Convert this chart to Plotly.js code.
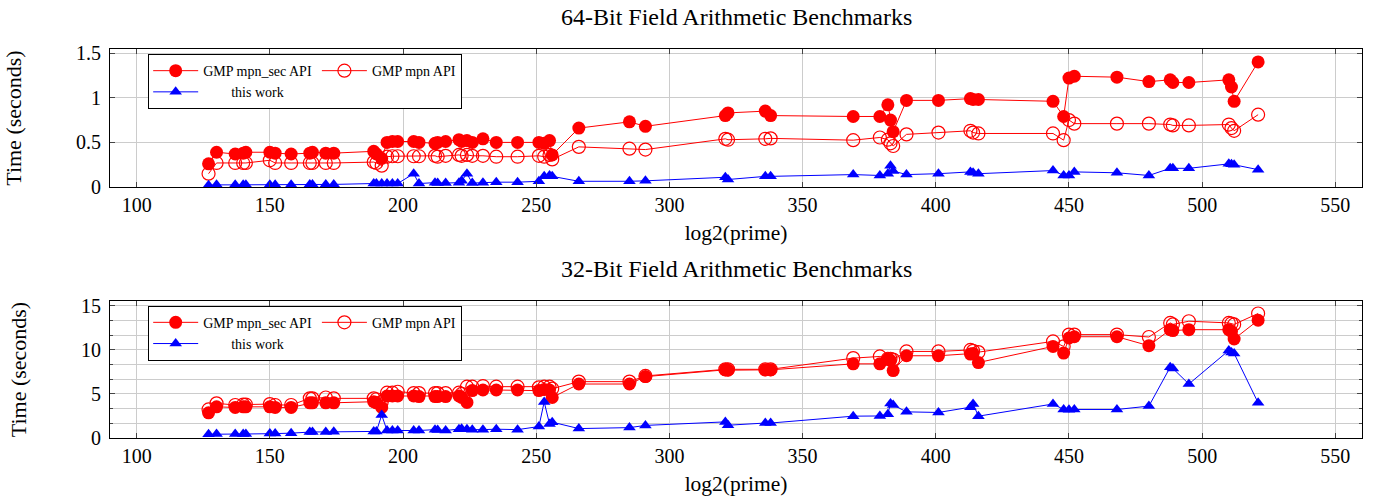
<!DOCTYPE html>
<html>
<head>
<meta charset="utf-8">
<script src="https://cdn.plot.ly/plotly-3.0.1.min.js"></script>
<style>html,body{margin:0;padding:0;background:#fff;}#chart{width:1374px;height:498px;}</style>
</head>
<body>
<div id="chart"></div>
<script>
// log2(prime) bit lengths
const bits = [127,130,137,140,141,150,152,158,165,166,171,174,189,190,192,194,196,198,204,206,212,213,216,221,222,224,226,230,235,243,251,253,255,256,266,285,291,321,322,336,338,369,379,382,383,384,389,401,413,414,416,444,448,450,452,468,480,488,489,495,510,511,512,521];

// 64-bit field timings (seconds)
const sec64 = [0.26,0.39,0.37,0.38,0.39,0.39,0.38,0.37,0.38,0.39,0.38,0.38,0.40,0.37,0.32,0.50,0.51,0.51,0.51,0.50,0.49,0.50,0.51,0.53,0.51,0.52,0.50,0.54,0.50,0.50,0.50,0.49,0.52,0.36,0.66,0.73,0.68,0.80,0.83,0.85,0.80,0.79,0.79,0.92,0.75,0.62,0.97,0.97,0.99,0.98,0.98,0.96,0.79,1.22,1.24,1.23,1.18,1.20,1.17,1.17,1.20,1.12,0.96,1.40];
const mpn64 = [0.15,0.27,0.27,0.27,0.27,0.30,0.27,0.27,0.27,0.27,0.27,0.27,0.28,0.27,0.24,0.34,0.345,0.345,0.345,0.345,0.35,0.34,0.35,0.36,0.35,0.36,0.35,0.35,0.34,0.34,0.35,0.34,0.36,0.31,0.45,0.43,0.42,0.54,0.53,0.54,0.545,0.525,0.555,0.53,0.49,0.46,0.59,0.61,0.63,0.61,0.60,0.60,0.525,0.75,0.71,0.71,0.71,0.70,0.69,0.69,0.70,0.66,0.63,0.81];
const work64 = [0.02,0.025,0.025,0.025,0.025,0.025,0.025,0.025,0.03,0.03,0.03,0.03,0.04,0.04,0.04,0.04,0.04,0.04,0.15,0.04,0.05,0.045,0.045,0.05,0.07,0.15,0.045,0.05,0.055,0.055,0.065,0.12,0.13,0.12,0.065,0.065,0.07,0.11,0.085,0.12,0.12,0.14,0.13,0.15,0.24,0.18,0.14,0.15,0.17,0.16,0.15,0.185,0.13,0.13,0.17,0.16,0.13,0.21,0.21,0.21,0.26,0.255,0.25,0.195];

// 32-bit field timings (seconds)
const sec32 = [2.86,3.54,3.47,3.54,3.54,3.54,3.47,3.47,4.0,4.0,4.0,4.0,4.12,4.0,3.47,4.77,4.77,4.77,4.77,4.7,4.7,4.7,4.7,4.77,4.6,4.04,5.38,5.45,5.45,5.45,5.38,5.5,5.45,4.6,6.13,6.13,6.97,7.74,7.7,7.74,7.74,8.42,8.42,8.95,8.8,7.66,9.34,9.34,9.53,9.6,8.57,10.4,9.64,11.36,11.5,11.5,10.48,12.3,12.2,12.3,12.3,12.1,11.24,13.37];
const mpn32 = [3.24,3.93,3.75,3.8,3.8,3.85,3.75,3.75,4.5,4.5,4.6,4.5,4.5,4.4,4.1,5.15,5.15,5.25,5.1,5.1,5.1,5.1,5.1,5.15,5.0,5.83,5.83,5.9,5.83,5.83,5.75,5.83,5.83,5.6,6.4,6.4,7.05,7.8,7.8,7.8,7.8,9.07,9.26,9.0,9.0,8.9,9.83,9.83,10.0,9.9,9.75,10.97,10.4,11.74,11.74,11.74,11.47,13.07,12.9,13.26,13.07,13.0,12.9,14.14];
const work32 = [0.42,0.45,0.45,0.45,0.45,0.5,0.5,0.55,0.69,0.69,0.69,0.7,0.75,0.75,2.6,0.85,0.85,0.85,0.85,0.85,0.95,0.9,0.85,1.0,1.05,1.0,0.95,0.95,1.0,0.95,1.3,4.1,1.6,1.8,1.07,1.18,1.43,1.83,1.45,1.7,1.7,2.48,2.5,2.7,3.93,3.75,2.97,2.9,3.5,3.86,2.48,3.86,3.24,3.2,3.24,3.24,3.62,8.04,7.9,6.13,9.94,9.7,9.6,4.0];

const names = ['GMP mpn_sec API', 'GMP mpn API', '\u00A0\u00A0\u00A0\u00A0\u00A0\u00A0\u00A0\u00A0this work'];
const titles = ['64-Bit Field Arithmetic Benchmarks', '32-Bit Field Arithmetic Benchmarks'];

const RED = '#ff0000', BLUE = '#0000ff';
const FONT = 'Liberation Serif, Times New Roman, serif';

function mk(x, y, name, xa, ya, leg, grp, style) {
  const t = {x: x, y: y, name: name, xaxis: xa, yaxis: ya, legend: leg, legendgroup: grp,
    type: 'scatter', mode: 'lines+markers', cliponaxis: false};
  if (style === 'sec') { t.line = {color: RED, width: 1}; t.marker = {symbol: 'circle', size: 13, color: RED}; }
  if (style === 'mpn') { t.line = {color: RED, width: 1}; t.marker = {symbol: 'circle-open', size: 13, color: RED, line: {width: 1.2, color: RED}}; }
  if (style === 'work') { t.line = {color: BLUE, width: 1}; t.marker = {symbol: 'triangle-up', size: 11, color: BLUE}; }
  return t;
}

const data = [
  mk(bits, sec64, names[0], 'x', 'y', 'legend', 'a1', 'sec'),
  mk(bits, mpn64, names[1], 'x', 'y', 'legend', 'b1', 'mpn'),
  mk(bits, work64, names[2], 'x', 'y', 'legend', 'a1', 'work'),
  mk(bits, sec32, names[0], 'x2', 'y2', 'legend2', 'a2', 'sec'),
  mk(bits, mpn32, names[1], 'x2', 'y2', 'legend2', 'b2', 'mpn'),
  mk(bits, work32, names[2], 'x2', 'y2', 'legend2', 'a2', 'work')
];

const grid = '#cccccc';
function xax(anchor) {
  return {anchor: anchor, range: [90, 560], dtick: 50, tick0: 0, showgrid: true, gridcolor: grid, gridwidth: 1,
    zeroline: false, showline: true, linecolor: '#000', linewidth: 1, mirror: 'ticks', ticks: 'inside', ticklen: 5,
    tickcolor: '#444', tickfont: {family: FONT, size: 20, color: '#000'},
    title: {text: 'log2(prime)', font: {family: FONT, size: 21.5, color: '#000'}, standoff: 9}};
}
function yax(anchor, domain, range, dtick, minor) {
  const a = {anchor: anchor, domain: domain, range: range, dtick: dtick, tick0: 0, showgrid: true, gridcolor: grid, gridwidth: 1,
    zeroline: false, showline: true, linecolor: '#000', linewidth: 1, mirror: 'ticks', ticks: 'inside', ticklen: 5,
    tickcolor: '#444', tickfont: {family: FONT, size: 20, color: '#000'}, ticklabelstandoff: 4,
    title: {text: 'Time (seconds)', font: {family: FONT, size: 22, color: '#000'}, standoff: 48}};
  if (minor) a.minor = {dtick: minor, showgrid: true, gridcolor: grid, gridwidth: 1, ticks: 'inside', ticklen: 3, tickcolor: '#444'};
  return a;
}

const legendBase = {orientation: 'h', traceorder: 'grouped', x: 0.0305, xanchor: 'left', yanchor: 'top', itemwidth: 45,
  bgcolor: '#fff', bordercolor: '#000', borderwidth: 1, font: {family: FONT, size: 14, color: '#000'}, itemclick: false, itemdoubleclick: false};

const layout = {
  width: 1374, height: 498,
  margin: {l: 110, r: 12, t: 49, b: 60},
  paper_bgcolor: '#fff', plot_bgcolor: '#fff',
  font: {family: FONT, color: '#000'},
  showlegend: true,
  hovermode: false,
  xaxis: xax('y'),
  yaxis: yax('x', [0.645, 1], [0, 1.545], 0.5, null),
  xaxis2: xax('y2'),
  yaxis2: yax('x2', [0, 0.352], [0, 15.55], 5, 5/3),
  legend: Object.assign({}, legendBase, {y: 0.987}),
  legend2: Object.assign({}, legendBase, {y: 0.340}),
  annotations: [
    {text: titles[0], xref: 'paper', yref: 'paper', x: 0.5, y: 1.082, xanchor: 'center', yanchor: 'middle', showarrow: false, font: {family: FONT, size: 24, color: '#000'}},
    {text: titles[1], xref: 'paper', yref: 'paper', x: 0.5, y: 0.4344, xanchor: 'center', yanchor: 'middle', showarrow: false, font: {family: FONT, size: 24, color: '#000'}}
  ]
};

Plotly.newPlot('chart', data, layout, {displayModeBar: false, staticPlot: true});
</script>
</body>
</html>
